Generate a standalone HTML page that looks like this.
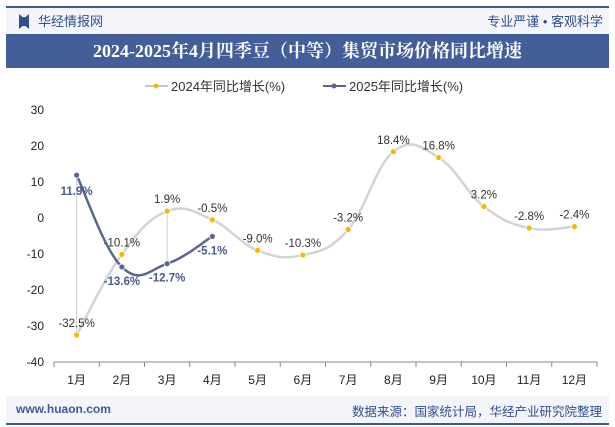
<!DOCTYPE html>
<html><head><meta charset="utf-8">
<style>
body{margin:0;width:615px;height:427px;background:#fff;font-family:"Liberation Sans","Noto Sans CJK SC",sans-serif;overflow:hidden;position:relative}
.abs{position:absolute}
</style></head><body>
<div class="abs" style="left:6px;top:6px;width:603px;height:28px;background:#f3f5fa;border-top:2px solid #3d5a94"></div>
<div class="abs" style="left:19px;top:14px;width:10px;height:15px;background:#2f4f8f;clip-path:polygon(0 0,35% 20%,65% 20%,100% 0,100% 100%,65% 80%,35% 80%,0 100%)"></div>
<div class="abs" style="left:38px;top:11px;font-size:13px;color:#2f4f8f">华经情报网</div>
<div class="abs" style="right:12px;top:11px;font-size:13px;color:#2f4f8f">专业严谨 • 客观科学</div>
<div class="abs" style="left:6px;top:34px;width:603px;height:34px;background:#435e98;color:#fff;font-family:'Liberation Serif','Noto Serif CJK SC',serif;font-weight:bold;font-size:18px;line-height:34px;text-align:center">2024-2025年4月四季豆（中等）集贸市场价格同比增速</div>
<svg class="abs" style="left:0;top:0" width="615" height="427" id="chart"></svg>
<div class="abs" style="left:6px;top:396px;width:603px;height:27px;background:#f3f5fa;border-bottom:2px solid #3d5a94"></div>
<div class="abs" style="left:16px;top:402px;font-size:12px;color:#3d5a94;font-weight:bold">www.huaon.com</div>
<div class="abs" style="right:13px;top:401px;font-size:12.5px;color:#2f4f8f">数据来源：国家统计局，华经产业研究院整理</div>
<script>
const categories=["1月","2月","3月","4月","5月","6月","7月","8月","9月","10月","11月","12月"];
const series2024=[-32.5,-10.1,1.9,-0.5,-9.0,-10.3,-3.2,18.4,16.8,3.2,-2.8,-2.4];
const series2025=[11.9,-13.6,-12.7,-5.1];
const yTicks=[30,20,10,0,-10,-20,-30,-40];
const NS="http://www.w3.org/2000/svg";
const svg=document.getElementById('chart');
const x0=54,x1=597,yTop=110,yBot=362;
const bw=(x1-x0)/categories.length;
const xs=i=>x0+bw*(i+0.5);
const ys=v=>yTop+(30-v)/70*(yBot-yTop);
function mk(t,a,p){const e=document.createElementNS(NS,t);for(const k in a)e.setAttribute(k,a[k]);(p||svg).appendChild(e);return e;}
// legend
let lg=mk('g',{});


mk('line',{x1:145,y1:86,x2:168,y2:86,stroke:'#c8c8c8','stroke-width':2},lg);
mk('circle',{cx:156,cy:86,r:2.5,fill:'#f5b800'},lg);
let t1=mk('text',{x:171,y:91,'font-size':13,fill:'#333'},lg);t1.textContent='2024年同比增长(%)';
mk('line',{x1:323,y1:86,x2:346,y2:86,stroke:'#5a6690','stroke-width':2},lg);
mk('circle',{cx:334,cy:86,r:2.5,fill:'#5a6690'},lg);
let t2=mk('text',{x:349,y:91,'font-size':13,fill:'#333'},lg);t2.textContent='2025年同比增长(%)';
// y ticks
yTicks.forEach(v=>{const t=mk('text',{x:44,y:ys(v)+4,'font-size':12,fill:'#222','text-anchor':'end'});


t.textContent=v;});
// x axis
const ax=mk('line',{x1:x0,y1:yBot,x2:x1,y2:yBot,stroke:'#888','stroke-width':1});


for(let i=0;i<=categories.length;i++)mk('line',{x1:x0+bw*i,y1:yBot,x2:x0+bw*i,y2:yBot+5,stroke:'#888'});
categories.forEach((c,i)=>{const t=mk('text',{x:xs(i),y:yBot+22,'font-size':12,fill:'#222','text-anchor':'middle'});


t.textContent=c;});
// drop lines
[0,2].forEach(i=>{if(i<series2025.length)mk('line',{x1:xs(i),y1:ys(series2024[i]),x2:xs(i),y2:ys(series2025[i]),stroke:'#ccc','stroke-width':1});});
function smooth(vals){const p=vals.map((v,i)=>[xs(i),ys(v)]);let d=`M${p[0][0]},${p[0][1]}`;
for(let i=0;i<p.length-1;i++){const a=p[i-1]||p[i],b=p[i],c=p[i+1],e=p[i+2]||c;const k=0.2;
d+=` C${b[0]+(c[0]-a[0])*k},${b[1]+(c[1]-a[1])*k} ${c[0]-(e[0]-b[0])*k},${c[1]-(e[1]-b[1])*k} ${c[0]},${c[1]}`;}return d;}
function draw(vals,color,dot,name,labelColor,offs){
const pa=mk('path',{d:smooth(vals),fill:'none',stroke:color,'stroke-width':2.5});


vals.forEach((v,i)=>{const c=mk('circle',{cx:xs(i),cy:ys(v),r:3,fill:dot,stroke:'#fff','stroke-width':0.8});


const t=mk('text',{x:xs(i),y:ys(v)+offs[i],'font-size':11.5,fill:labelColor,'text-anchor':'middle','font-weight':labelColor=='#333'?'normal':'bold'});


t.textContent=v.toFixed(1)+'%';});}
draw(series2024,'#d4d4d4','#f5b800','series-2024','#333',[-8,-8,-8,-8,-8,-8,-8,-8,-8,-8,-8,-8]);
draw(series2025,'#5a6690','#5a6690','series-2025','#4a5a8a',[20,18,18,18]);
</script>
</body></html>
